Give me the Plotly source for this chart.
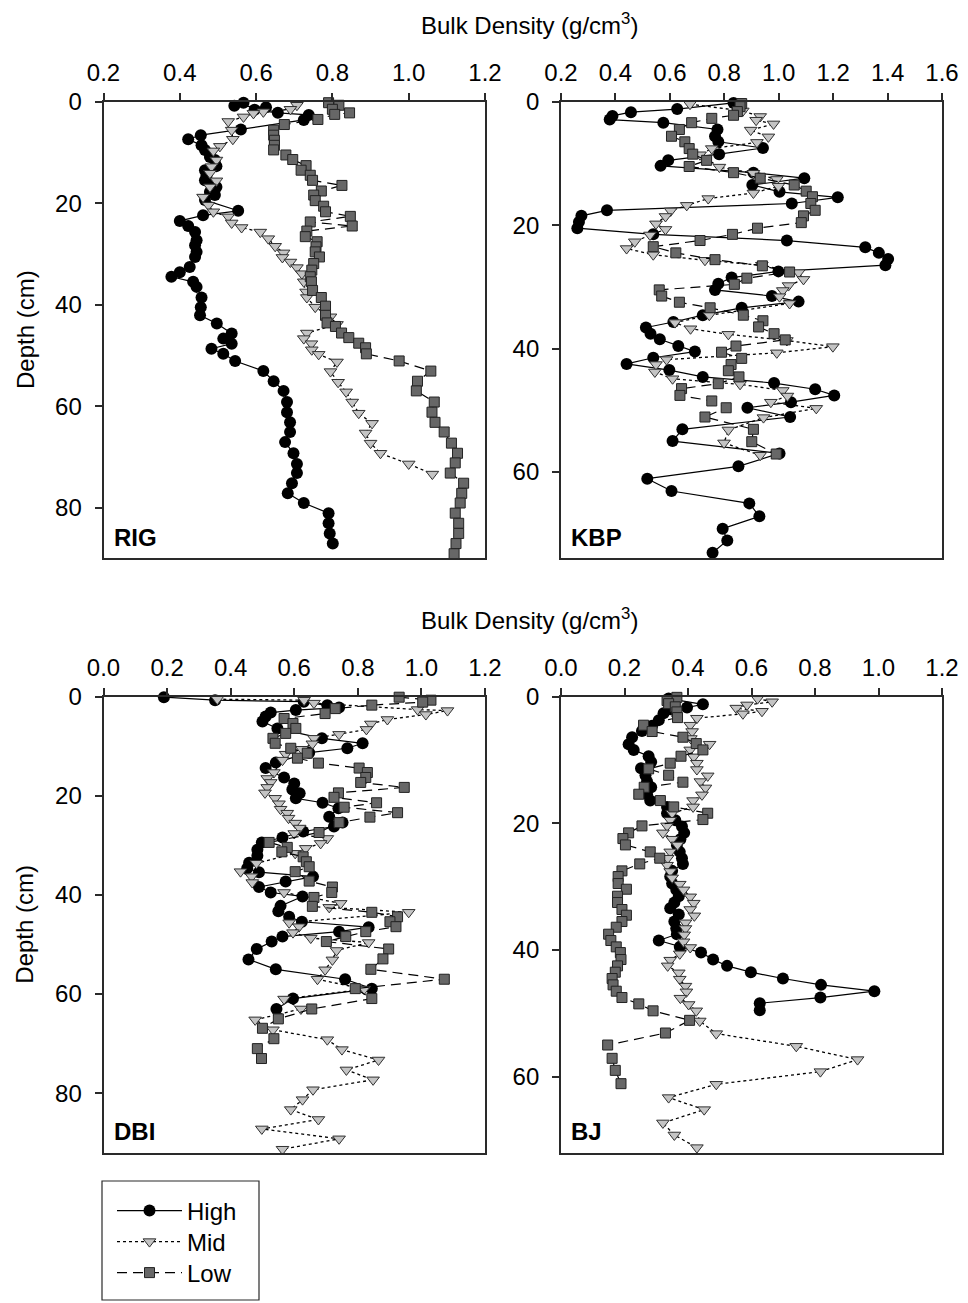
import plotly.graph_objects as go

# ---------------- data: [depth (cm), bulk density (g/cm3)] ----------------
rig_high = [[0.2,0.567],[0.8,0.543],[1.1,0.626],[1.6,0.596],[2.2,0.657],[2.6,0.738],[3.6,0.725],[5.5,0.56],[6.6,0.455],[7.4,0.422],[8.6,0.457],[9.5,0.466],[10.9,0.479],[11.5,0.492],[12.7,0.496],[13.5,0.466],[14.5,0.47],[15.5,0.466],[16.1,0.482],[16.8,0.496],[17.8,0.479],[18.4,0.492],[19.4,0.466],[21.5,0.553],[22.4,0.461],[23.5,0.40],[24.5,0.422],[25.7,0.44],[27.3,0.444],[28.3,0.44],[29.6,0.444],[30.6,0.44],[32.6,0.426],[33.6,0.40],[34.5,0.378],[35.5,0.435],[36.5,0.444],[38.6,0.457],[40.5,0.455],[42.1,0.453],[43.7,0.497],[45.7,0.536],[46.7,0.514],[47.7,0.536],[48.7,0.483],[49.7,0.514],[51.1,0.545],[53.1,0.619],[55.1,0.646],[57.0,0.672],[59.2,0.681],[61.2,0.681],[63.2,0.689],[65.1,0.689],[67.1,0.676],[69.3,0.698],[71.4,0.707],[73.2,0.707],[75.2,0.694],[77.2,0.683],[79.1,0.725],[81.1,0.79],[83.1,0.79],[85.1,0.793],[87.1,0.801]]
rig_mid = [[0.7,0.707],[1.5,0.69],[2.0,0.619],[2.3,0.593],[3.0,0.567],[3.9,0.527],[5.6,0.536],[7.4,0.539],[8.8,0.505],[9.7,0.488],[11.5,0.496],[12.8,0.483],[14.1,0.479],[15.6,0.496],[16.8,0.479],[18.8,0.461],[20.4,0.475],[21.7,0.488],[22.7,0.527],[23.9,0.536],[24.8,0.562],[25.7,0.611],[27.0,0.632],[28.5,0.65],[29.8,0.672],[30.7,0.669],[31.6,0.69],[32.7,0.707],[33.9,0.72],[35.5,0.725],[37.5,0.731],[38.6,0.733],[40.5,0.755],[42.4,0.795],[43.9,0.812],[45.6,0.733],[46.7,0.725],[47.7,0.745],[48.9,0.746],[49.8,0.764],[51.3,0.812],[53.2,0.795],[55.3,0.815],[57.2,0.836],[59.2,0.852],[61.4,0.869],[63.4,0.904],[65.3,0.887],[67.3,0.90],[69.3,0.926],[71.4,1.00],[73.4,1.062]]
rig_low = [[0.2,0.79],[0.7,0.817],[1.5,0.80],[2.2,0.845],[2.5,0.806],[3.5,0.762],[4.5,0.674],[5.6,0.646],[6.6,0.646],[7.6,0.648],[8.6,0.648],[9.5,0.646],[10.5,0.678],[11.4,0.696],[12.6,0.731],[13.5,0.718],[14.5,0.742],[15.5,0.748],[16.5,0.825],[17.6,0.771],[18.4,0.751],[19.5,0.755],[20.6,0.777],[21.7,0.782],[22.6,0.847],[23.7,0.742],[24.5,0.852],[25.5,0.733],[26.6,0.729],[27.6,0.76],[28.6,0.757],[29.6,0.755],[30.6,0.766],[31.9,0.751],[33.2,0.746],[34.5,0.742],[35.5,0.745],[37.2,0.748],[38.6,0.771],[40.3,0.782],[42.1,0.782],[43.6,0.786],[44.3,0.808],[45.6,0.824],[46.5,0.843],[47.6,0.869],[48.5,0.887],[49.7,0.889],[51.1,0.975],[53.1,1.058],[55.1,1.023],[57.0,1.02],[59.2,1.067],[61.2,1.061],[63.2,1.069],[65.1,1.093],[67.3,1.112],[69.3,1.128],[71.2,1.122],[73.2,1.109],[75.2,1.144],[77.2,1.139],[79.1,1.135],[81.1,1.122],[83.1,1.131],[85.1,1.131],[87.1,1.124],[89.1,1.119]]

kbp_high = [[0.2,0.834],[1.2,0.627],[1.7,0.457],[2.3,0.389],[2.9,0.379],[3.4,0.576],[4.5,0.775],[5.6,0.766],[6.5,0.778],[7.5,0.942],[8.5,0.781],[9.5,0.594],[10.4,0.566],[11.5,0.907],[12.4,1.094],[13.5,0.903],[14.6,1.003],[15.5,1.217],[16.5,1.048],[17.6,0.369],[18.5,0.275],[19.5,0.266],[20.5,0.26],[21.5,0.539],[22.5,1.03],[23.6,1.318],[24.5,1.368],[25.5,1.402],[26.5,1.392],[27.5,0.999],[28.5,0.827],[29.5,0.778],[30.5,0.766],[31.5,0.975],[32.4,1.073],[33.4,0.864],[34.6,0.721],[35.7,0.613],[36.6,0.512],[37.6,0.529],[38.5,0.563],[39.6,0.631],[40.5,0.692],[41.5,0.539],[42.5,0.441],[43.5,0.598],[44.6,0.721],[45.6,0.983],[46.6,1.134],[47.6,1.204],[48.7,1.045],[49.6,0.885],[51.1,1.042],[53.1,0.646],[55.0,0.61],[57.0,1.003],[59.1,0.852],[61.1,0.517],[63.1,0.606],[65.1,0.892],[67.2,0.929],[69.2,0.794],[71.1,0.811],[73.1,0.757]]
kbp_mid = [[0.4,0.674],[1.5,0.868],[2.4,0.932],[3.0,0.917],[3.6,0.981],[4.6,0.897],[5.7,0.962],[6.6,0.92],[7.6,0.754],[8.6,0.711],[10.6,0.782],[11.6,0.907],[12.6,0.993],[13.7,0.999],[14.8,0.907],[15.7,0.741],[16.8,0.662],[17.7,0.603],[18.6,0.584],[19.8,0.549],[20.7,0.584],[21.6,0.527],[22.7,0.471],[23.8,0.441],[24.8,0.539],[25.7,0.729],[26.5,0.938],[27.7,1.073],[28.8,1.091],[29.8,1.036],[30.6,1.015],[31.6,1.003],[32.7,1.04],[34.6,0.745],[35.8,0.619],[36.8,0.676],[37.7,0.815],[38.7,1.03],[39.7,1.199],[40.7,0.993],[41.8,0.588],[42.6,0.549],[43.8,0.545],[44.9,0.61],[45.8,0.858],[46.8,1.015],[47.7,1.032],[48.7,0.971],[49.7,1.138],[51.2,0.944],[53.2,0.815],[55.3,0.799],[57.3,0.932]]
kbp_low = [[0.3,0.864],[0.8,0.858],[1.6,0.848],[2.2,0.834],[2.7,0.754],[3.4,0.68],[4.5,0.635],[5.6,0.606],[6.5,0.655],[7.6,0.671],[8.5,0.684],[9.5,0.735],[10.5,0.671],[11.5,0.834],[12.4,0.932],[13.5,1.057],[14.5,1.101],[15.4,1.124],[16.5,1.118],[17.6,1.134],[18.5,1.091],[19.6,1.083],[20.5,0.922],[21.5,0.83],[22.5,0.711],[23.5,0.539],[24.5,0.622],[25.6,0.766],[26.6,0.94],[27.6,1.04],[28.6,0.883],[29.6,0.837],[30.5,0.561],[31.5,0.57],[32.5,0.635],[33.4,0.748],[34.6,0.87],[35.5,0.942],[36.5,0.926],[37.6,0.983],[38.6,1.024],[39.6,0.843],[40.6,0.79],[41.6,0.864],[42.6,0.825],[43.6,0.815],[44.6,0.854],[45.7,0.778],[46.5,0.643],[47.6,0.637],[48.5,0.754],[49.6,0.807],[51.1,0.729],[53.1,0.907],[55.1,0.901],[57.1,0.991]]

dbi_high = [[0.1,0.19],[0.7,0.351],[1.0,0.63],[1.7,0.704],[2.2,0.741],[2.7,0.605],[3.2,0.526],[4.0,0.51],[5.0,0.50],[6.4,0.547],[8.4,0.687],[9.4,0.815],[10.4,0.767],[11.3,0.647],[13.3,0.542],[14.4,0.51],[16.3,0.568],[17.5,0.60],[18.7,0.594],[19.5,0.617],[20.5,0.605],[21.4,0.689],[22.5,0.739],[24.2,0.71],[25.4,0.752],[26.2,0.725],[27.2,0.628],[28.4,0.563],[29.4,0.498],[30.9,0.484],[32.1,0.484],[33.5,0.458],[34.6,0.452],[35.4,0.489],[36.3,0.659],[37.3,0.573],[38.4,0.489],[39.5,0.526],[40.3,0.626],[42.2,0.557],[43.3,0.55],[44.4,0.584],[45.4,0.624],[46.5,0.834],[47.4,0.741],[48.4,0.563],[49.4,0.529],[50.9,0.482],[53.0,0.456],[55.0,0.542],[57.0,0.76],[58.9,0.844],[60.9,0.596],[63.0,0.544]]
dbi_mid = [[0.5,0.358],[0.7,0.631],[1.3,0.662],[2.6,0.988],[2.8,1.082],[3.6,1.014],[4.6,0.893],[5.5,0.841],[6.6,0.827],[7.6,0.741],[8.4,0.662],[9.5,0.657],[10.6,0.624],[11.6,0.573],[12.8,0.563],[15.3,0.536],[16.5,0.515],[17.3,0.526],[18.3,0.515],[19.4,0.508],[20.5,0.54],[21.6,0.552],[22.7,0.557],[23.5,0.578],[24.5,0.582],[25.5,0.603],[26.5,0.617],[27.6,0.60],[28.6,0.704],[29.6,0.683],[30.6,0.636],[31.6,0.603],[33.6,0.481],[35.3,0.431],[36.3,0.466],[37.5,0.468],[39.5,0.568],[41.7,0.746],[42.5,0.71],[43.5,0.96],[45.6,0.584],[46.4,0.615],[47.6,0.596],[48.7,0.652],[49.6,0.834],[51.2,0.733],[53.1,0.72],[55.1,0.697],[57.0,0.673],[59.0,0.82],[61.0,0.568],[63.0,0.621],[65.2,0.477],[67.2,0.533],[69.2,0.704],[71.2,0.75],[73.3,0.865],[75.3,0.764],[77.3,0.848],[79.3,0.659],[81.3,0.626],[83.3,0.589],[85.3,0.676],[87.2,0.498],[89.2,0.741],[91.3,0.563]]
dbi_low = [[0.1,0.93],[0.7,1.03],[1.1,1.004],[1.7,0.844],[2.4,0.729],[3.4,0.697],[4.4,0.568],[5.4,0.596],[6.4,0.605],[7.4,0.573],[8.4,0.533],[9.4,0.54],[10.4,0.589],[11.4,0.641],[12.4,0.61],[13.4,0.676],[14.4,0.804],[15.3,0.83],[16.3,0.825],[17.3,0.809],[18.3,0.946],[19.4,0.739],[20.3,0.725],[21.4,0.859],[22.3,0.757],[23.4,0.925],[24.3,0.838],[25.4,0.741],[27.4,0.678],[29.4,0.521],[30.4,0.578],[31.3,0.561],[32.3,0.628],[33.3,0.638],[34.3,0.647],[35.3,0.603],[37.2,0.647],[38.4,0.72],[39.5,0.718],[40.5,0.662],[42.3,0.657],[43.5,0.844],[44.4,0.925],[45.4,0.901],[46.4,0.92],[47.4,0.825],[48.4,0.762],[49.4,0.701],[50.9,0.897],[52.9,0.879],[55.0,0.841],[57.0,1.072],[58.9,0.792],[60.9,0.844],[63.0,0.655],[65.0,0.55],[66.9,0.50],[69.0,0.536],[71.0,0.484],[73.0,0.497]]

bj_high = [[0.3,0.339],[1.2,0.447],[1.7,0.397],[2.0,0.344],[2.6,0.323],[3.7,0.308],[4.6,0.287],[5.4,0.255],[6.4,0.224],[7.5,0.213],[8.4,0.229],[9.4,0.276],[10.3,0.284],[11.3,0.252],[12.4,0.266],[13.4,0.271],[14.3,0.284],[15.4,0.271],[16.4,0.281],[17.4,0.334],[18.4,0.334],[19.5,0.36],[20.5,0.381],[21.5,0.388],[22.5,0.376],[23.4,0.365],[24.5,0.374],[25.5,0.381],[26.4,0.384],[27.5,0.35],[28.4,0.344],[29.5,0.35],[30.5,0.363],[31.5,0.371],[32.5,0.357],[33.4,0.344],[34.4,0.371],[35.5,0.357],[36.6,0.363],[37.5,0.365],[38.5,0.308],[39.5,0.374],[40.4,0.441],[41.5,0.479],[42.5,0.523],[43.5,0.598],[44.5,0.699],[45.5,0.819],[46.5,0.987],[47.5,0.817],[48.4,0.626],[49.5,0.626]]
bj_mid = [[0.3,0.619],[0.8,0.665],[1.3,0.586],[1.8,0.552],[2.3,0.633],[2.7,0.573],[3.4,0.428],[4.5,0.407],[5.5,0.413],[6.6,0.409],[7.5,0.468],[8.4,0.407],[9.5,0.418],[10.5,0.428],[11.5,0.428],[12.5,0.462],[13.4,0.439],[14.4,0.455],[15.5,0.444],[16.4,0.416],[17.4,0.416],[18.4,0.35],[19.5,0.344],[20.4,0.334],[21.5,0.321],[22.5,0.35],[23.4,0.367],[24.5,0.344],[25.5,0.336],[26.6,0.334],[27.6,0.344],[28.6,0.35],[29.6,0.374],[30.5,0.386],[31.6,0.407],[32.6,0.418],[33.6,0.407],[34.6,0.42],[35.7,0.392],[36.6,0.392],[37.6,0.388],[38.7,0.386],[39.6,0.407],[40.6,0.374],[41.6,0.344],[42.5,0.336],[43.6,0.371],[44.6,0.374],[45.7,0.392],[46.6,0.395],[47.6,0.376],[48.6,0.402],[49.6,0.426],[51.2,0.437],[53.2,0.489],[55.2,0.741],[57.3,0.934],[59.2,0.817],[61.2,0.489],[63.3,0.339],[65.2,0.451],[67.3,0.321],[69.2,0.357],[71.2,0.428]]
bj_low = [[0.1,0.365],[0.6,0.334],[1.1,0.339],[1.6,0.36],[2.4,0.365],[3.3,0.367],[4.5,0.26],[5.5,0.287],[6.4,0.384],[7.4,0.426],[8.4,0.447],[9.4,0.378],[10.5,0.344],[11.4,0.276],[12.4,0.339],[13.5,0.384],[14.3,0.262],[15.4,0.245],[16.4,0.313],[17.4,0.355],[18.4,0.462],[19.4,0.447],[20.4,0.255],[21.5,0.213],[22.4,0.195],[23.4,0.203],[24.5,0.281],[25.5,0.311],[26.4,0.248],[27.5,0.192],[28.4,0.18],[29.5,0.18],[30.4,0.206],[31.5,0.178],[32.5,0.178],[33.6,0.192],[34.5,0.206],[35.5,0.192],[36.4,0.174],[37.5,0.15],[38.5,0.157],[39.5,0.174],[40.4,0.187],[41.5,0.189],[42.5,0.178],[43.5,0.171],[44.5,0.161],[45.5,0.164],[46.5,0.174],[47.5,0.192],[48.5,0.245],[49.6,0.29],[51.1,0.405],[53.1,0.329],[55.0,0.147],[57.1,0.161],[59.0,0.171],[61.1,0.189]]

sites = ["RIG", "KBP", "DBI", "BJ"]
series_names = ["High", "Mid", "Low"]
site_data = {
    "RIG": [rig_high, rig_mid, rig_low],
    "KBP": [kbp_high, kbp_mid, kbp_low],
    "DBI": [dbi_high, dbi_mid, dbi_low],
    "BJ": [bj_high, bj_mid, bj_low],
}
x_ranges = {"RIG": [0.2, 1.2], "KBP": [0.2, 1.6], "DBI": [0.0, 1.2], "BJ": [0.0, 1.2]}
y_ranges = {"RIG": [90, 0], "KBP": [74, 0], "DBI": [92, 0], "BJ": [72, 0]}
x_title = "Bulk Density (g/cm<sup>3</sup>)"
y_title = "Depth (cm)"

# ---------------- styling ----------------
OFF = 8                      # page body margin of the html page
W, H = 968 - OFF, 1303 - OFF
FONT = "Liberation Sans, Arial, sans-serif"
FS = 24
AX = "#2a2a2a"
styles = {
    "High": dict(line=dict(color="black", width=1.2, dash="solid"),
                 marker=dict(symbol="circle", size=12, color="black", line=dict(width=0))),
    "Mid": dict(line=dict(color="black", width=1.3, dash="dot"),
                marker=dict(symbol="triangle-down", size=11, color="#c4c4c4", line=dict(color="#303030", width=1))),
    "Low": dict(line=dict(color="black", width=1.2, dash="10px,6px"),
                marker=dict(symbol="square", size=10, color="#676767", line=dict(color="#222222", width=1))),
}
legend_ids = {"High": "legend", "Mid": "legend2", "Low": "legend3"}
legend_rows = {"High": 1211, "Mid": 1242, "Low": 1273}

def px_x(p):
    return (p - OFF) / W

def px_y(p):
    return 1 - (p - OFF) / H

dom_x = {"RIG": [px_x(103.5), px_x(485)], "KBP": [px_x(561), px_x(942)],
         "DBI": [px_x(103.5), px_x(485)], "BJ": [px_x(561), px_x(942)]}
dom_y = {"RIG": [px_y(558.3), px_y(101.7)], "KBP": [px_y(558.3), px_y(101.7)],
         "DBI": [px_y(1152.7), px_y(696.7)], "BJ": [px_y(1152.7), px_y(696.7)]}

fig = go.Figure()
layout = dict(template="none", width=W, height=H,
              margin=dict(l=0, r=0, t=0, b=0, pad=0, autoexpand=False),
              paper_bgcolor="white", plot_bgcolor="white",
              font=dict(family=FONT, size=FS, color="black"))

annotations = []
for i, site in enumerate(sites):
    n = i + 1
    xa = "x" if n == 1 else f"x{n}"
    ya = "y" if n == 1 else f"y{n}"
    for name, pts in zip(series_names, site_data[site]):
        st = styles[name]
        fig.add_trace(go.Scatter(
            x=[p[1] for p in pts], y=[p[0] for p in pts], name=name,
            xaxis=xa, yaxis=ya, mode="lines+markers", line=st["line"], marker=st["marker"],
            showlegend=(i == 0), legend=legend_ids[name], cliponaxis=False))
    axline = dict(showline=True, linecolor=AX, linewidth=1.8, mirror=True,
                  showgrid=False, zeroline=False, automargin=False)
    layout[f"xaxis{'' if n == 1 else n}"] = dict(
        domain=dom_x[site], range=x_ranges[site], side="top", anchor=ya,
        dtick=0.2, tick0=0, tickformat=".1f", ticks="outside", ticklen=7, tickwidth=1.5,
        tickcolor=AX, ticklabelstandoff=2, tickfont=dict(size=FS), **axline)
    layout[f"yaxis{'' if n == 1 else n}"] = dict(
        domain=dom_y[site], range=y_ranges[site], anchor=xa, dtick=20,
        ticks="outside", ticklen=7, tickwidth=1.5, tickcolor=AX,
        ticklabelstandoff=8, tickfont=dict(size=FS), **axline)
    # inner ticks along the bottom edge
    layout[f"xaxis{n + 4}"] = dict(
        domain=dom_x[site], range=x_ranges[site], overlaying=xa, side="bottom", anchor=ya,
        dtick=0.2, tick0=0, ticks="inside", ticklen=5, tickwidth=1.5, tickcolor=AX,
        showticklabels=False, showline=False, showgrid=False, zeroline=False, automargin=False)
    annotations.append(dict(text=f"<b>{site}</b>", xref=f"{xa} domain", yref=f"{ya} domain",
                            x=0.022, y=0.012, xanchor="left", yanchor="bottom",
                            showarrow=False, font=dict(size=FS)))

for yc, tb in [(330, 24), (924.7, 619)]:
    annotations.append(dict(text=y_title, xref="paper", yref="paper", x=px_x(25), y=px_y(yc),
                            xanchor="center", yanchor="middle", textangle=-90,
                            showarrow=False, font=dict(size=FS)))
    annotations.append(dict(text=x_title, xref="paper", yref="paper", x=px_x(529), y=px_y(tb),
                            xanchor="center", yanchor="middle",
                            showarrow=False, font=dict(size=FS)))

layout["annotations"] = annotations
layout["shapes"] = [dict(type="rect", xref="paper", yref="paper",
                         x0=px_x(102), x1=px_x(259), y0=px_y(1300), y1=px_y(1181),
                         line=dict(color=AX, width=1.2), fillcolor="rgba(0,0,0,0)")]
for name in series_names:
    layout[legend_ids[name]] = dict(x=px_x(112), y=px_y(legend_rows[name]), xanchor="left",
                                    yanchor="middle", bgcolor="rgba(0,0,0,0)", borderwidth=0,
                                    itemwidth=65, font=dict(size=FS))
fig.update_layout(**layout)
fig.write_html("out.html")
